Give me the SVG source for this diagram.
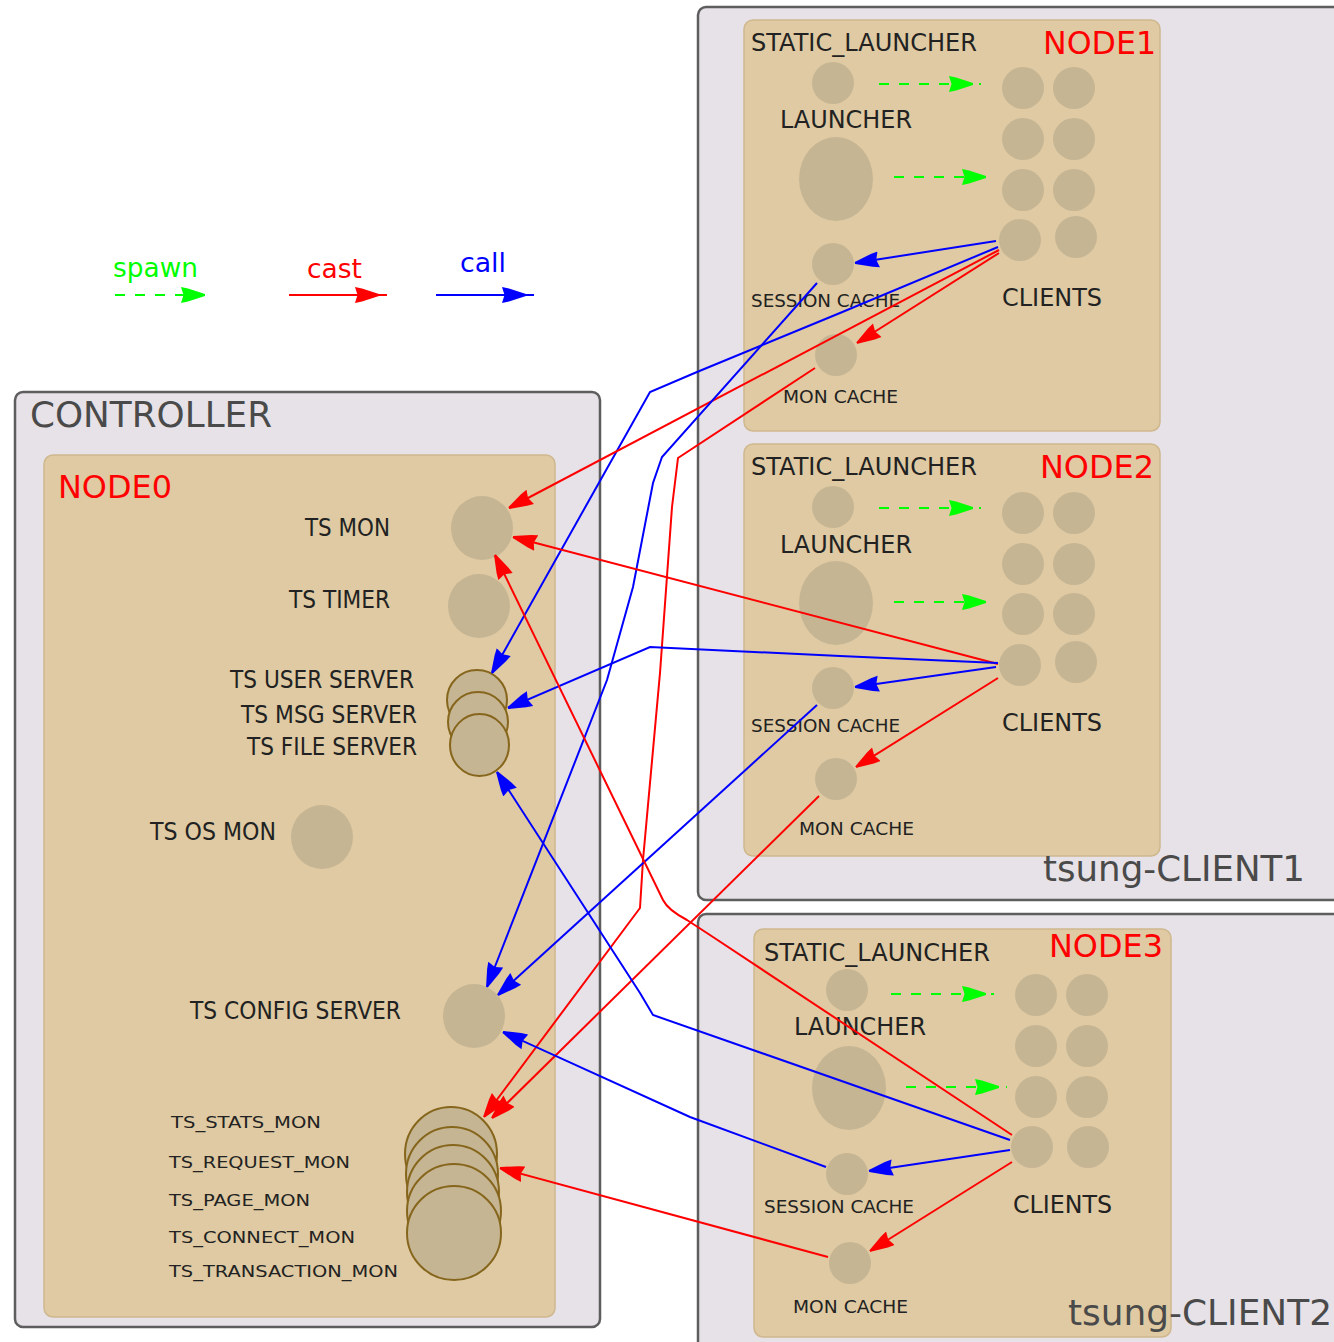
<svg xmlns="http://www.w3.org/2000/svg" width="1334" height="1342" viewBox="0 0 1334 1342">
<style>
.frame{fill:#e6e2e7;stroke:#5e5e5e;stroke-width:2.5}
.node{fill:#dfcaa3;stroke:#cfb88e;stroke-width:1.5}
.proc{fill:#c6b593}
.stk{fill:#c6b593;stroke:#86661c;stroke-width:2}
text{font-family:"DejaVu Sans","Liberation Sans",sans-serif}
.lbl{fill:#222;font-size:24px}
.sm{fill:#222;font-size:18px}
.xs{fill:#222;font-size:16px}
.title{font-size:36px;fill:#4a4a4a}
.nt{font-size:32px;fill:#ff0000}
.lg{font-size:26px}
.spawn{fill:none;stroke:#00ff00;stroke-width:2;stroke-dasharray:10 10}
.cast{fill:none;stroke:#ff0000;stroke-width:2}
.call{fill:none;stroke:#0000ff;stroke-width:2}
</style>
<defs>
<marker id="gT" viewBox="0 -9 34 18" refX="32" refY="0" markerWidth="34" markerHeight="18" markerUnits="userSpaceOnUse" orient="auto"><path d="M0,-8 L7,-6.5 L24,-1 L24,1 L7,6.5 L0,8 L2.5,0 Z" fill="#00ff00"/></marker>
<marker id="rT" viewBox="0 -9 34 18" refX="32" refY="0" markerWidth="34" markerHeight="18" markerUnits="userSpaceOnUse" orient="auto"><path d="M0,-8 L7,-6.5 L24,-1 L24,1 L7,6.5 L0,8 L2.5,0 Z" fill="#ff0000"/></marker>
<marker id="bT" viewBox="0 -9 34 18" refX="32" refY="0" markerWidth="34" markerHeight="18" markerUnits="userSpaceOnUse" orient="auto"><path d="M0,-8 L7,-6.5 L24,-1 L24,1 L7,6.5 L0,8 L2.5,0 Z" fill="#0000ff"/></marker>
<marker id="r" viewBox="0 -9 26 18" refX="24" refY="0" markerWidth="26" markerHeight="18" markerUnits="userSpaceOnUse" orient="auto"><path d="M0,-8 L7,-6.5 L24,-1 L24,1 L7,6.5 L0,8 L2.5,0 Z" fill="#ff0000"/></marker>
<marker id="b" viewBox="0 -9 26 18" refX="24" refY="0" markerWidth="26" markerHeight="18" markerUnits="userSpaceOnUse" orient="auto"><path d="M0,-8 L7,-6.5 L24,-1 L24,1 L7,6.5 L0,8 L2.5,0 Z" fill="#0000ff"/></marker>
</defs>
<rect width="1334" height="1342" fill="#ffffff"/>

<g id="legend">
<text class="lg" x="113" y="277" fill="#00ff00" textLength="85" lengthAdjust="spacingAndGlyphs">spawn</text>
<text class="lg" x="307" y="278" fill="#ff0000" textLength="55" lengthAdjust="spacingAndGlyphs">cast</text>
<text class="lg" x="460" y="272" fill="#0000ff" textLength="46" lengthAdjust="spacingAndGlyphs">call</text>
<path class="spawn" d="M115,295 H213" marker-end="url(#gT)"/>
<path class="cast" d="M289,295 H387" marker-end="url(#rT)"/>
<path class="call" d="M436,295 H534" marker-end="url(#bT)"/>
</g>

<g id="client1">
<rect class="frame" x="698" y="7" width="660" height="893" rx="8"/>

<g id="node1">
<rect class="node" x="744" y="20" width="416" height="411" rx="9"/>
<text class="lbl" x="751" y="51" textLength="226" lengthAdjust="spacingAndGlyphs">STATIC_LAUNCHER</text>
<text class="nt" x="1043" y="54" textLength="113" lengthAdjust="spacingAndGlyphs">NODE1</text>
<ellipse class="proc" cx="833" cy="83" rx="21" ry="21"/>
<text class="lbl" x="780" y="128" textLength="132" lengthAdjust="spacingAndGlyphs">LAUNCHER</text>
<ellipse class="proc" cx="836" cy="179" rx="37" ry="42"/>
<ellipse class="proc" cx="833" cy="264" rx="21" ry="21"/>
<text class="sm" x="751" y="307" textLength="149" lengthAdjust="spacingAndGlyphs">SESSION CACHE</text>
<ellipse class="proc" cx="836" cy="355" rx="21" ry="21"/>
<text class="sm" x="783" y="403" textLength="115" lengthAdjust="spacingAndGlyphs">MON CACHE</text>
<ellipse class="proc" cx="1023" cy="88" rx="21" ry="21"/>
<ellipse class="proc" cx="1074" cy="88" rx="21" ry="21"/>
<ellipse class="proc" cx="1023" cy="139" rx="21" ry="21"/>
<ellipse class="proc" cx="1074" cy="139" rx="21" ry="21"/>
<ellipse class="proc" cx="1023" cy="190" rx="21" ry="21"/>
<ellipse class="proc" cx="1074" cy="190" rx="21" ry="21"/>
<ellipse class="proc" cx="1020" cy="240" rx="21" ry="21"/>
<ellipse class="proc" cx="1076" cy="237" rx="21" ry="21"/>
<text class="lbl" x="1002" y="306" textLength="100" lengthAdjust="spacingAndGlyphs">CLIENTS</text>
</g>

<g id="node2">
<rect class="node" x="744" y="444" width="416" height="412" rx="9"/>
<text class="lbl" x="751" y="475" textLength="226" lengthAdjust="spacingAndGlyphs">STATIC_LAUNCHER</text>
<text class="nt" x="1040" y="478" textLength="114" lengthAdjust="spacingAndGlyphs">NODE2</text>
<ellipse class="proc" cx="833" cy="507" rx="21" ry="21"/>
<text class="lbl" x="780" y="553" textLength="132" lengthAdjust="spacingAndGlyphs">LAUNCHER</text>
<ellipse class="proc" cx="836" cy="603" rx="37" ry="42"/>
<ellipse class="proc" cx="833" cy="688" rx="21" ry="21"/>
<text class="sm" x="751" y="732" textLength="149" lengthAdjust="spacingAndGlyphs">SESSION CACHE</text>
<ellipse class="proc" cx="836" cy="779" rx="21" ry="21"/>
<text class="sm" x="799" y="835" textLength="115" lengthAdjust="spacingAndGlyphs">MON CACHE</text>
<ellipse class="proc" cx="1023" cy="513" rx="21" ry="21"/>
<ellipse class="proc" cx="1074" cy="513" rx="21" ry="21"/>
<ellipse class="proc" cx="1023" cy="564" rx="21" ry="21"/>
<ellipse class="proc" cx="1074" cy="564" rx="21" ry="21"/>
<ellipse class="proc" cx="1023" cy="614" rx="21" ry="21"/>
<ellipse class="proc" cx="1074" cy="614" rx="21" ry="21"/>
<ellipse class="proc" cx="1020" cy="665" rx="21" ry="21"/>
<ellipse class="proc" cx="1076" cy="662" rx="21" ry="21"/>
<text class="lbl" x="1002" y="731" textLength="100" lengthAdjust="spacingAndGlyphs">CLIENTS</text>
</g>
<text class="title" x="1043" y="881" textLength="262" lengthAdjust="spacingAndGlyphs">tsung-CLIENT1</text>
</g>

<g id="client2">
<rect class="frame" x="698" y="914" width="660" height="450" rx="8"/>
<g id="node3">
<rect class="node" x="754" y="929" width="417" height="408" rx="9"/>
<text class="lbl" x="764" y="961" textLength="226" lengthAdjust="spacingAndGlyphs">STATIC_LAUNCHER</text>
<text class="nt" x="1049" y="957" textLength="114" lengthAdjust="spacingAndGlyphs">NODE3</text>
<ellipse class="proc" cx="847" cy="990" rx="21" ry="21"/>
<text class="lbl" x="794" y="1035" textLength="132" lengthAdjust="spacingAndGlyphs">LAUNCHER</text>
<ellipse class="proc" cx="849" cy="1088" rx="37" ry="42"/>
<ellipse class="proc" cx="847" cy="1174" rx="21" ry="21"/>
<text class="sm" x="764" y="1213" textLength="150" lengthAdjust="spacingAndGlyphs">SESSION CACHE</text>
<ellipse class="proc" cx="850" cy="1263" rx="21" ry="21"/>
<text class="sm" x="793" y="1313" textLength="115" lengthAdjust="spacingAndGlyphs">MON CACHE</text>
<ellipse class="proc" cx="1036" cy="995" rx="21" ry="21"/>
<ellipse class="proc" cx="1087" cy="995" rx="21" ry="21"/>
<ellipse class="proc" cx="1036" cy="1046" rx="21" ry="21"/>
<ellipse class="proc" cx="1087" cy="1046" rx="21" ry="21"/>
<ellipse class="proc" cx="1036" cy="1097" rx="21" ry="21"/>
<ellipse class="proc" cx="1087" cy="1097" rx="21" ry="21"/>
<ellipse class="proc" cx="1032" cy="1147" rx="21" ry="21"/>
<ellipse class="proc" cx="1088" cy="1147" rx="21" ry="21"/>
<text class="lbl" x="1013" y="1213" textLength="99" lengthAdjust="spacingAndGlyphs">CLIENTS</text>
</g>
<text class="title" x="1068" y="1325" textLength="264" lengthAdjust="spacingAndGlyphs">tsung-CLIENT2</text>
</g>

<g id="controller">
<rect class="frame" x="15" y="392" width="585" height="935" rx="8"/>
<text class="title" x="30" y="427" textLength="242" lengthAdjust="spacingAndGlyphs">CONTROLLER</text>
<g id="node0">
<rect class="node" x="44" y="455" width="511" height="862" rx="9"/>
<text class="nt" x="58" y="498" textLength="114" lengthAdjust="spacingAndGlyphs">NODE0</text>
<text class="lbl" x="305" y="536" textLength="85" lengthAdjust="spacingAndGlyphs">TS MON</text>
<ellipse class="proc" cx="482" cy="528" rx="31" ry="32"/>
<text class="lbl" x="289" y="608" textLength="101" lengthAdjust="spacingAndGlyphs">TS TIMER</text>
<ellipse class="proc" cx="479" cy="606" rx="31" ry="32"/>
<text class="lbl" x="230" y="688" textLength="184" lengthAdjust="spacingAndGlyphs">TS USER SERVER</text>
<text class="lbl" x="241" y="723" textLength="176" lengthAdjust="spacingAndGlyphs">TS MSG SERVER</text>
<text class="lbl" x="247" y="755" textLength="170" lengthAdjust="spacingAndGlyphs">TS FILE SERVER</text>
<ellipse class="stk" cx="477" cy="700" rx="30" ry="30"/>
<ellipse class="stk" cx="478" cy="722" rx="30" ry="30"/>
<ellipse class="stk" cx="479.5" cy="745" rx="29.5" ry="31"/>
<text class="lbl" x="150" y="840" textLength="126" lengthAdjust="spacingAndGlyphs">TS OS MON</text>
<ellipse class="proc" cx="322" cy="837" rx="31" ry="32"/>
<text class="lbl" x="190" y="1019" textLength="211" lengthAdjust="spacingAndGlyphs">TS CONFIG SERVER</text>
<ellipse class="proc" cx="474" cy="1016" rx="31" ry="32"/>
<text class="xs" x="171" y="1128" textLength="150" lengthAdjust="spacingAndGlyphs">TS_STATS_MON</text>
<text class="xs" x="169" y="1168" textLength="181" lengthAdjust="spacingAndGlyphs">TS_REQUEST_MON</text>
<text class="xs" x="169" y="1206" textLength="141" lengthAdjust="spacingAndGlyphs">TS_PAGE_MON</text>
<text class="xs" x="169" y="1243" textLength="186" lengthAdjust="spacingAndGlyphs">TS_CONNECT_MON</text>
<text class="xs" x="169" y="1277" textLength="229" lengthAdjust="spacingAndGlyphs">TS_TRANSACTION_MON</text>
<ellipse class="stk" cx="451" cy="1154" rx="46" ry="47"/>
<ellipse class="stk" cx="452" cy="1174" rx="46" ry="47"/>
<ellipse class="stk" cx="453" cy="1192" rx="46" ry="47"/>
<ellipse class="stk" cx="454" cy="1211" rx="47" ry="47"/>
<ellipse class="stk" cx="454" cy="1233" rx="47" ry="47"/>
</g>
</g>

<g id="connectors">
<path class="spawn" d="M879,84 H981" marker-end="url(#gT)"/>
<path class="spawn" d="M894,177 H994" marker-end="url(#gT)"/>
<path class="spawn" d="M879,508 H981" marker-end="url(#gT)"/>
<path class="spawn" d="M894,602 H994" marker-end="url(#gT)"/>
<path class="spawn" d="M891,994 H994" marker-end="url(#gT)"/>
<path class="spawn" d="M906,1087 H1007" marker-end="url(#gT)"/>

<path class="call" d="M996,241 L855,263" marker-end="url(#b)"/>
<path class="cast" d="M999,253 L857,343" marker-end="url(#r)"/>
<path class="call" d="M996,667 L855,687" marker-end="url(#b)"/>
<path class="cast" d="M998,678 L856,767" marker-end="url(#r)"/>
<path class="call" d="M1010,1150 L869,1171" marker-end="url(#b)"/>
<path class="cast" d="M1012,1162 L870,1251" marker-end="url(#r)"/>

<path class="call" d="M998,247 L840,313 L697,372 L650,392 L492,673" marker-end="url(#b)"/>
<path class="cast" d="M999,250 L509,508" marker-end="url(#r)"/>
<path class="call" d="M817,283 L662,457 L653,483 L633,587 L607,680 L487,987" marker-end="url(#b)"/>
<path class="cast" d="M815,368 L678,458 L672,507 L660,673 L643,860 L640,908 L484,1117" marker-end="url(#r)"/>

<path class="cast" d="M998,664 L513,537" marker-end="url(#r)"/>
<path class="call" d="M998,663 L840,656 L650,647 L508,708" marker-end="url(#b)"/>
<path class="call" d="M817,705 L498,995" marker-end="url(#b)"/>
<path class="cast" d="M819,796 L492,1118" marker-end="url(#r)"/>

<path class="cast" d="M1012,1135 L713,937 L687,920 Q668,910 663,900 L495,555" marker-end="url(#r)"/>
<path class="call" d="M1010,1140 L653,1015 L640,993 L497,772" marker-end="url(#b)"/>
<path class="call" d="M826,1167 L690,1117 L503,1032" marker-end="url(#b)"/>
<path class="cast" d="M828,1257 L500,1168" marker-end="url(#r)"/>
</g>
</svg>
